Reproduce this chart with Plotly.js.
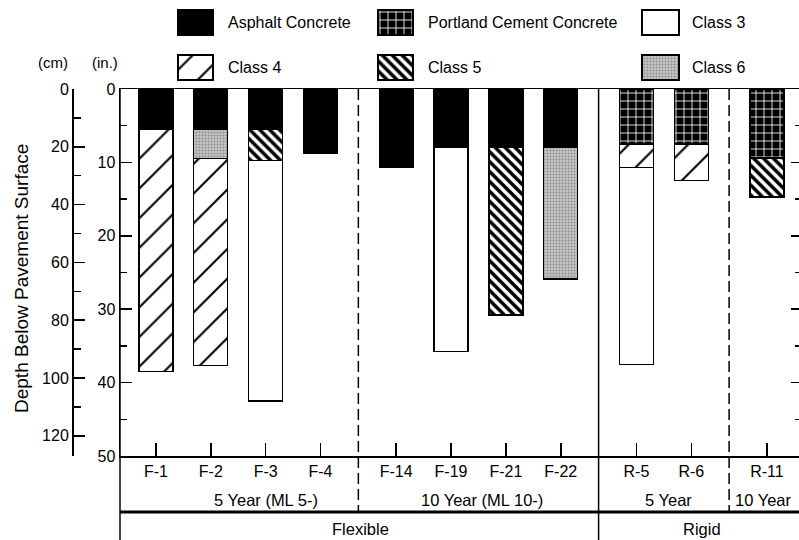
<!DOCTYPE html>
<html><head><meta charset="utf-8">
<script src="https://cdn.plot.ly/plotly-3.0.1.min.js"></script>
<style>html,body{margin:0;padding:0;background:#fff}</style>
</head><body><div id="chart" style="width:799px;height:540px"></div>
<script>
// ---------------- data ----------------
const sites = ['F-1','F-2','F-3','F-4','F-14','F-19','F-21','F-22','R-5','R-6','R-11'];
const siteGroup = [0,0,0,0,1,1,1,1,2,2,3];
const groupLabels = ['5 Year (ML 5-)','10 Year (ML 10-)','5 Year','10 Year'];
const typeLabels = ['Flexible','Rigid'];
// layer thickness in inches (null = layer absent), stacked from the surface down
const asphaltConcrete        = [5.5, 5.5, 5.5, 8.7, 10.7, 7.9, 7.9, 7.9, null, null, null];
const portlandCementConcrete = [null,null,null,null,null,null,null,null, 7.5, 7.5, 9.4];
const class6                 = [null, 4.0, null,null,null,null,null, 18.0, null,null,null];
const class5                 = [null,null, 4.2, null,null,null, 22.9, null, null,null, 5.3];
const class4                 = [33.0, 28.2, null,null,null,null,null,null, 3.2, 5.0, null];
const class3                 = [null,null, 32.8, null,null, 27.9, null,null, 26.8, null,null];
const inchTicks = [0,10,20,30,40,50];
const cmTicks = [0,20,40,60,80,100,120];

// ---------------- layout helpers ----------------
const W = 799, H = 540, ML = 40, PW = W - ML;
const pxX = p => (p - ML) / PW;
const pxY = p => 1 - p / H;
const gap = 0.38;
const xpos = sites.map((s, i) => i + siteGroup[i] * gap);
const xr = [-0.656, 11.724];
const xDom = [pxX(120), 1];
const yDom = [pxY(456), pxY(89)];
const dX = x => xDom[0] + (x - xr[0]) / (xr[1] - xr[0]) * (xDom[1] - xDom[0]);
const FONT = 'Liberation Sans, Arial, Helvetica, sans-serif';

const styles = {
  'Asphalt Concrete': {color: '#000'},
  'Portland Cement Concrete': {color: '#000', pattern: {shape: '+', fgcolor: '#fff', bgcolor: '#000', size: 8, solidity: 0.2, fillmode: 'replace'}},
  'Class 3': {color: '#fff'},
  'Class 4': {color: '#fff', pattern: {shape: '/', fgcolor: '#000', bgcolor: '#fff', size: 21, solidity: 0.1, fillmode: 'replace'}},
  'Class 5': {color: '#fff', pattern: {shape: '\\', fgcolor: '#000', bgcolor: '#fff', size: 7, solidity: 0.5, fillmode: 'replace'}},
  'Class 6': {color: '#c0c0c0', pattern: {shape: '.', fgcolor: '#8c8c8c', bgcolor: '#c6c6c6', size: 3, solidity: 0.35, fillmode: 'replace'}}
};

const layers = [
  ['Asphalt Concrete', asphaltConcrete],
  ['Portland Cement Concrete', portlandCementConcrete],
  ['Class 6', class6],
  ['Class 5', class5],
  ['Class 4', class4],
  ['Class 3', class3]
];

const traces = layers.map(([name, vals]) => ({
  type: 'bar', name: name, x: xpos, y: vals, width: 0.62,
  marker: Object.assign({line: {color: '#000', width: 1.3}}, styles[name]),
  showlegend: false, hoverinfo: 'skip', xaxis: 'x', yaxis: 'y'
}));

// dummy traces so the extra axes exist
traces.push({type: 'scatter', x: [null], y: [null], xaxis: 'x', yaxis: 'y2', showlegend: false, hoverinfo: 'skip'});
traces.push({type: 'scatter', x: [null], y: [null], xaxis: 'x', yaxis: 'y4', showlegend: false, hoverinfo: 'skip'});

// custom legend with large swatches
const legendOrder = ['Asphalt Concrete','Portland Cement Concrete','Class 3','Class 4','Class 5','Class 6'];
const colLeft = [178, 378, 642];
const colW = [35, 35, 37];
const rowMid = [22.5, 67.5];
const annotations = [];
const ann = (o) => annotations.push(Object.assign({showarrow: false, xanchor: 'center', yanchor: 'middle'}, o));
legendOrder.forEach((name, k) => {
  const c = k % 3, r = Math.floor(k / 3);
  traces.push({
    type: 'bar', orientation: 'h', base: [colLeft[c]], x: [colW[c]], y: [rowMid[r]], width: [25],
    marker: Object.assign({line: {color: '#000', width: 1.3}}, styles[name]),
    xaxis: 'x2', yaxis: 'y3', showlegend: false, hoverinfo: 'skip'
  });
  ann({xref: 'paper', yref: 'paper', x: pxX(colLeft[c] + 48), y: pxY(rowMid[r]), xanchor: 'left', text: name, font: {size: 16}});
});

ann({xref: 'paper', yref: 'paper', x: pxX(53), y: pxY(62), text: '(cm)', font: {size: 15}});
ann({xref: 'paper', yref: 'paper', x: pxX(105), y: pxY(62), text: '(in.)', font: {size: 15}});
// y-axis title
ann({xref: 'paper', yref: 'paper', x: pxX(21), y: pxY(279), text: 'Depth Below Pavement Surface', textangle: -90, font: {size: 19}});

// group labels
const groupX = [2.0, 5.95, 9.35];
groupX.forEach((gx, i) => ann({xref: 'x', yref: 'paper', x: gx, y: pxY(500), text: groupLabels[i], font: {size: 16.5}}));
ann({xref: 'paper', yref: 'paper', x: pxX(733), y: pxY(500), xanchor: 'left', text: groupLabels[3], font: {size: 16.5}});
ann({xref: 'paper', yref: 'paper', x: pxX(360), y: pxY(529), text: typeLabels[0], font: {size: 16.5}});
ann({xref: 'paper', yref: 'paper', x: pxX(702), y: pxY(529), text: typeLabels[1], font: {size: 16.5}});

// separators
const sep1 = dX((xpos[3] + xpos[4]) / 2);
const sep2 = dX((xpos[7] + xpos[8]) / 2);
const sep3 = dX((xpos[9] + xpos[10]) / 2);
const shapes = [
  {type: 'line', xref: 'paper', yref: 'paper', x0: xDom[0], x1: xDom[0], y0: pxY(89), y1: pxY(540), line: {color: '#000', width: 1.5}},
  {type: 'line', xref: 'paper', yref: 'paper', x0: xDom[0], x1: 1, y0: pxY(512), y1: pxY(512), line: {color: '#000', width: 3}},
  {type: 'line', xref: 'paper', yref: 'paper', x0: sep1, x1: sep1, y0: pxY(89), y1: pxY(512), line: {color: '#000', width: 1.5, dash: '11px,5px'}},
  {type: 'line', xref: 'paper', yref: 'paper', x0: sep2, x1: sep2, y0: pxY(89), y1: pxY(540), line: {color: '#000', width: 1.5}},
  {type: 'line', xref: 'paper', yref: 'paper', x0: sep3, x1: sep3, y0: pxY(89), y1: pxY(512), line: {color: '#000', width: 1.5, dash: '11px,5px'}}
];

const layout = {
  width: W, height: H,
  margin: {l: ML, r: 0, t: 0, b: 0},
  paper_bgcolor: '#fff', plot_bgcolor: 'rgba(0,0,0,0)',
  font: {family: FONT, color: '#000', size: 15},
  barmode: 'stack', showlegend: false,
  xaxis: {domain: xDom, range: xr, tickvals: xpos, ticktext: sites, ticks: 'inside', ticklen: 13, tickwidth: 1.5,
    tickcolor: '#000', showline: true, mirror: true, linewidth: 1.5, linecolor: '#000', showgrid: false, zeroline: false,
    tickfont: {size: 16}, automargin: false, fixedrange: true},
  yaxis: {domain: yDom, anchor: 'x', range: [50, 0], tickvals: inchTicks, ticks: 'inside', ticklen: 12, tickwidth: 1.5,
    tickcolor: '#000', showline: true, linewidth: 1.5, linecolor: '#000', showgrid: false, zeroline: false,
    minor: {dtick: 5, ticks: 'inside', ticklen: 7, tickwidth: 1.5, tickcolor: '#000', showgrid: false},
    tickfont: {size: 16}, automargin: false, fixedrange: true},
  yaxis2: {domain: yDom, overlaying: 'y', anchor: 'free', position: pxX(72), side: 'left', range: [127, 0],
    tickvals: cmTicks, ticks: 'inside', ticklen: 11, tickwidth: 1.5, tickcolor: '#000', showline: true, linewidth: 1.5,
    linecolor: '#000', showgrid: false, zeroline: false,
    minor: {dtick: 10, ticks: 'inside', ticklen: 7, tickwidth: 1.5, tickcolor: '#000', showgrid: false},
    tickfont: {size: 16}, automargin: false, fixedrange: true},
  yaxis4: {domain: yDom, overlaying: 'y', anchor: 'x', side: 'right', range: [50, 0], tickvals: inchTicks,
    ticks: 'inside', ticklen: 8, tickwidth: 1.5, tickcolor: '#000', showticklabels: false, showline: false,
    showgrid: false, zeroline: false,
    minor: {dtick: 5, ticks: 'inside', ticklen: 4, tickwidth: 1.5, tickcolor: '#000', showgrid: false},
    automargin: false, fixedrange: true},
  xaxis2: {domain: [0, 1], range: [ML, W], visible: false, anchor: 'y3', fixedrange: true},
  yaxis3: {domain: [pxY(89), 1], range: [89, 0], visible: false, anchor: 'x2', fixedrange: true},
  annotations: annotations,
  shapes: shapes
};

Plotly.newPlot('chart', traces, layout, {staticPlot: true, displayModeBar: false});
</script>
</body></html>
